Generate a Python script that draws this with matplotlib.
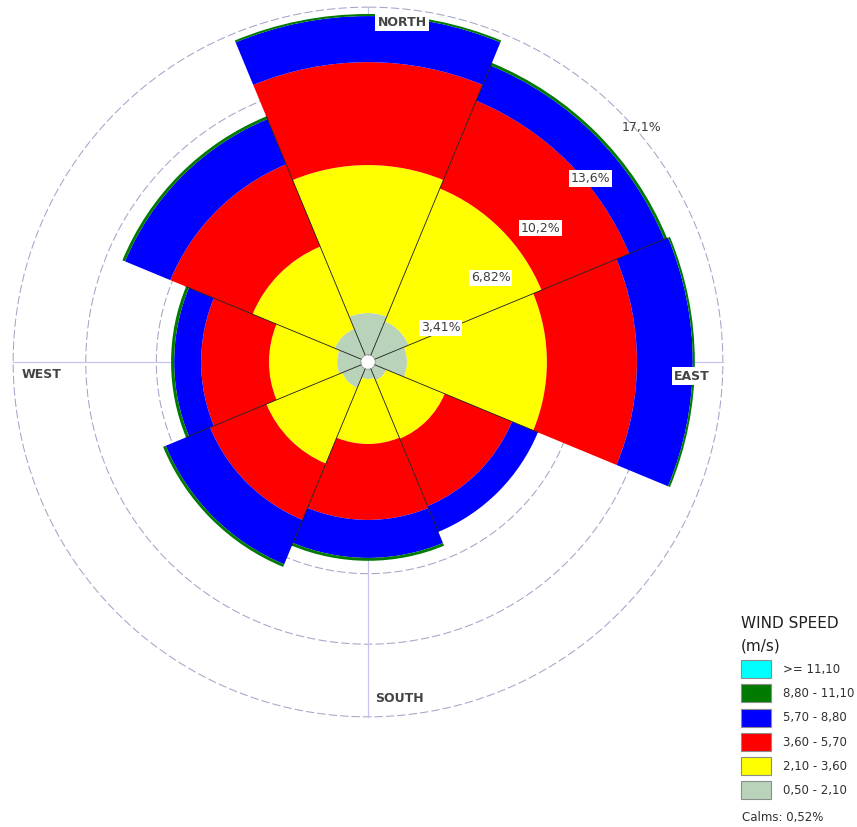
import numpy as np
import matplotlib
matplotlib.use('Agg')
import matplotlib.pyplot as plt
from matplotlib.patches import Patch
from matplotlib.transforms import offset_copy

# ---------------- data ----------------
directions = ['N', 'NE', 'E', 'SE', 'S', 'SW', 'W', 'NW']
direction_deg = [0, 45, 90, 135, 180, 225, 270, 315]
speed_labels = ['0,50 - 2,10', '2,10 - 3,60', '3,60 - 5,70',
                '5,70 - 8,80', '8,80 - 11,10', '>= 11,10']
freq_050_210 = [2.01, 1.77, 1.53, 0.61, 0.47, 1.00, 1.14, 1.38]
freq_210_360 = [7.13, 6.93, 6.74, 3.04, 3.13, 3.95, 3.28, 4.29]
freq_360_570 = [4.96, 4.58, 4.34, 3.51, 3.66, 2.94, 3.27, 4.29]
freq_570_880 = [2.22, 1.83, 2.69, 1.35, 1.83, 2.31, 1.30, 2.36]
freq_880_1110 = [0.10, 0.14, 0.10, 0.00, 0.14, 0.14, 0.15, 0.14]
freq_ge_1110 = [0.0, 0.0, 0.0, 0.0, 0.0, 0.0, 0.0, 0.0]
calms_pct = 0.52
ring_values = [3.41, 6.82, 10.2, 13.6, 17.1]
ring_labels = ['3,41%', '6,82%', '10,2%', '13,6%', '17,1%']
compass_labels = ['NORTH', 'EAST', 'SOUTH', 'WEST']

# ---------------- style ----------------
colors = ['#b9d3bb', '#ffff00', '#ff0000', '#0000ff', '#007a00', '#00ffff']
hole = 0.35          # radius of the white centre circle (display units)
rmax = 17.3

W, H = 857, 827
fig = plt.figure(figsize=(W / 100, H / 100), dpi=100, facecolor='white')
cx, cy, rpx = 368, 362, 359
ax = fig.add_axes([(cx - rpx) / W, (H - cy - rpx) / H, 2 * rpx / W, 2 * rpx / H],
                  projection='polar')
ax.set_theta_zero_location('N')
ax.set_theta_direction(-1)
ax.set_ylim(0, rmax)
ax.set_axis_off()

t = np.linspace(0, 2 * np.pi, 600)
# dashed rings
for r in ring_values:
    ax.plot(t, np.full_like(t, r), color='#a4a4c8', lw=0.75,
            ls=(0, (8, 3)), zorder=1)
# axis cross
for a in [0, 90, 180, 270]:
    ax.plot([np.deg2rad(a)] * 2, [hole, ring_values[-1]], color='#c4c4ec',
            lw=0.9, zorder=1)

theta = np.deg2rad(direction_deg)
width = np.deg2rad(45)
series = [freq_050_210, freq_210_360, freq_360_570, freq_570_880,
          freq_880_1110, freq_ge_1110]
bottom = np.full(len(directions), hole)
for vals, col in zip(series, colors):
    vals = np.asarray(vals)
    ax.bar(theta, vals, width=width, bottom=bottom, color=col,
           edgecolor='none', linewidth=0, zorder=2, align='center')
    bottom = bottom + vals
totals = bottom

# sector separators
n = len(directions)
for i in range(n):
    a = theta[i] + width / 2
    r_end = min(totals[i], totals[(i + 1) % n])
    ax.plot([a, a], [hole, r_end], color='#1a1a1a', lw=0.6, zorder=3)
# inner (calm) circle outline
ax.plot(t, np.full_like(t, hole), color='#8a8a8a', lw=0.5, zorder=3)

# ring labels at the NE ray
lab_tr = offset_copy(ax.transData, fig=fig, x=3, y=-16, units='dots')
for r, lab in zip(ring_values, ring_labels):
    box = dict(facecolor='white', edgecolor='none', pad=1.2) if r < ring_values[-1] else None
    ax.text(np.deg2rad(45), r, lab, transform=lab_tr, ha='left', va='center',
            fontsize=9, color='#3c3c3c', bbox=box, zorder=6)

# compass labels (pixel positions)
def ftext(x, y, s, **kw):
    fig.text(x / W, 1 - y / H, s, **kw)

comp_pos = [(402, 22), (692, 376), (399, 698), (42, 375)]
for (x, y), s in zip(comp_pos, compass_labels):
    ftext(x, y, s, ha='center', va='center', fontsize=9, fontweight='bold',
          color='#444444',
          bbox=dict(facecolor='white', edgecolor='none', pad=1.5), zorder=6)

# legend
handles = [Patch(facecolor=c, edgecolor='#8c8c8c', linewidth=0.8)
           for c in colors[::-1]]
leg = fig.legend(handles, speed_labels[::-1], loc='upper left',
                 bbox_to_anchor=(741 / W, 1 - 616 / H),
                 title='WIND SPEED\n(m/s)', alignment='left', frameon=False,
                 fontsize=8.5, title_fontsize=11, handlelength=2.55,
                 handleheight=1.97, labelspacing=0.53, handletextpad=1.0,
                 borderpad=0, borderaxespad=0)
for txt in leg.get_texts():
    txt.set_color('#303030')
leg.get_title().set_color('#202020')
leg.get_title().set_linespacing(1.65)
ftext(742, 818, 'Calms: ' + f'{calms_pct:.2f}'.replace('.', ',') + '%',
      ha='left', va='center', fontsize=8.5, color='#303030')

fig.savefig('out.png', dpi=100, facecolor='white')
